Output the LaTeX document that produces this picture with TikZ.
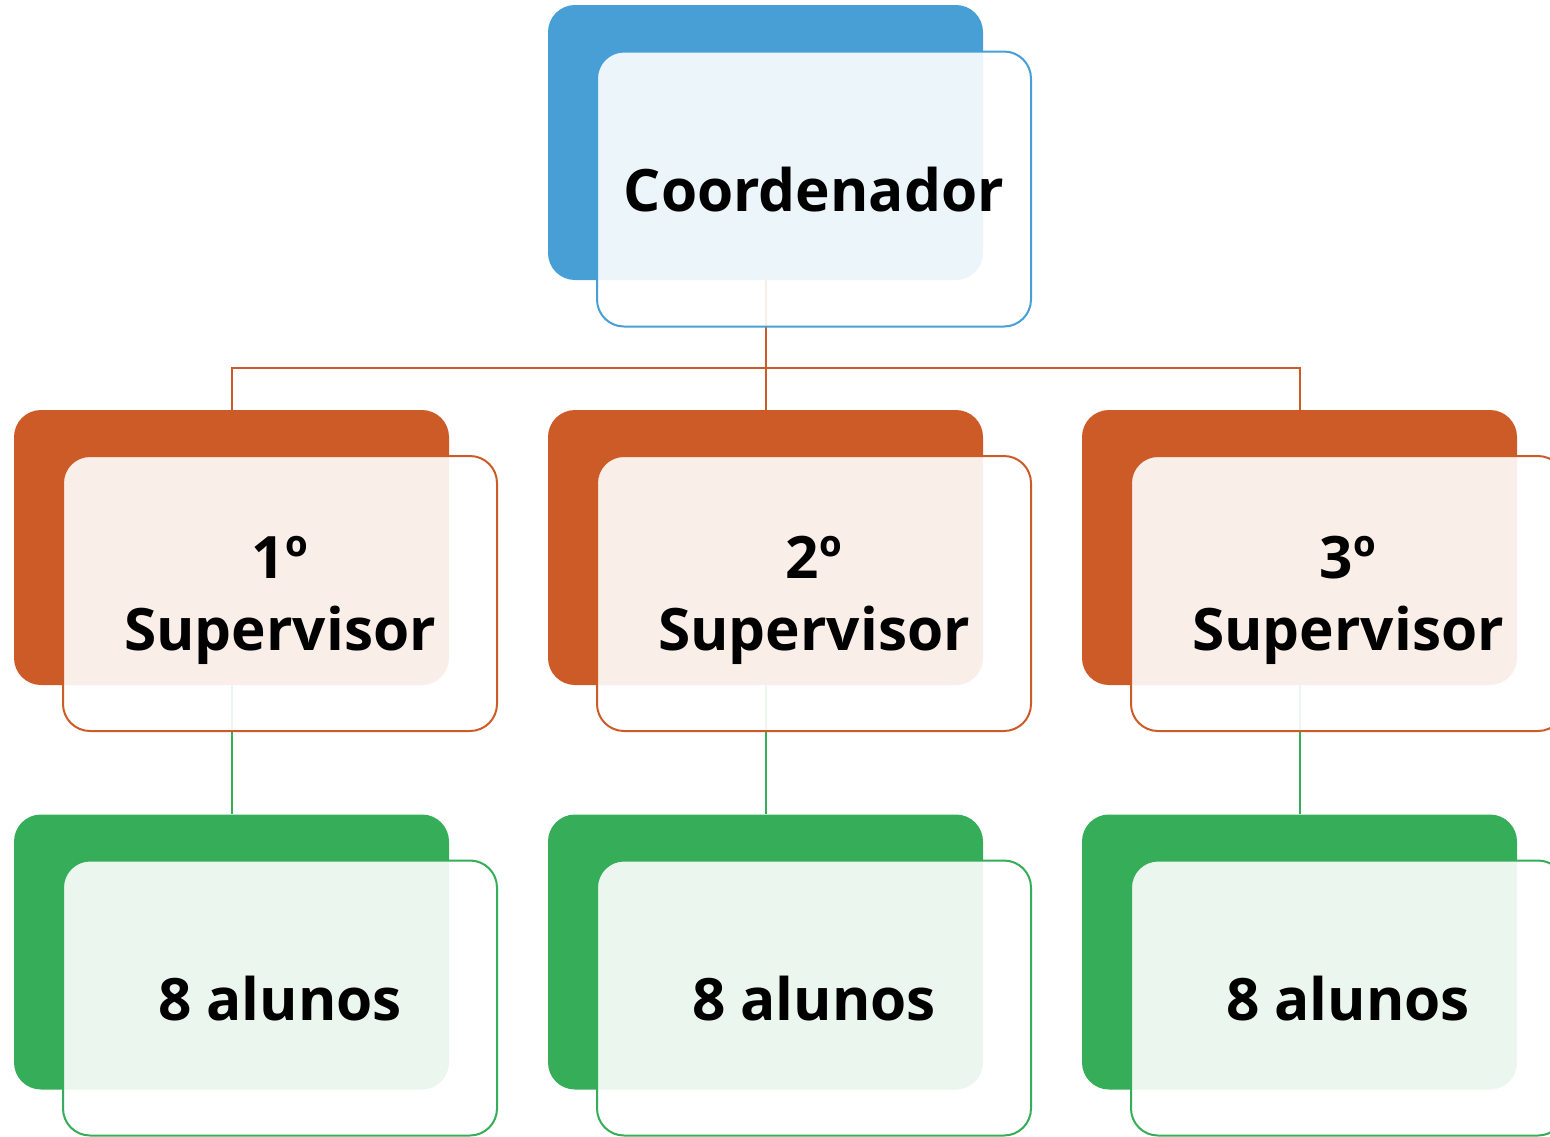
\documentclass[tikz,border=0pt]{standalone}
\usepackage{fontspec}
\setmainfont{Open Sans}
\definecolor{cblue}{HTML}{479FD6}
\definecolor{corange}{HTML}{CD5B27}
\definecolor{cgreen}{HTML}{35AD59}
\begin{document}
\begin{tikzpicture}[x=1pt,y=-1pt,
  backbox/.style={rectangle, rounded corners=27pt, minimum width=435pt, minimum height=275pt, inner sep=0pt, fill=#1, draw=none},
  frontbox/.style={rectangle, rounded corners=27pt, minimum width=434pt, minimum height=275pt, inner sep=0pt, draw=#1, line width=2pt, fill=white, fill opacity=0.9, text opacity=1, align=center, text depth=0pt, font=\fontsize{58.5}{72}\selectfont\bfseries, text=black},
  link/.style={draw=#1, line width=2pt}
]
\useasboundingbox (0,0) rectangle (1550,1136);
% back boxes
\node[backbox=cblue] (cb) at (765.5,142.5) {};
\node[backbox=corange] (s1b) at (231.5,547.5) {};
\node[backbox=corange] (s2b) at (765.5,547.5) {};
\node[backbox=corange] (s3b) at (1299.5,547.5) {};
\node[backbox=cgreen] (a1b) at (231.5,952) {};
\node[backbox=cgreen] (a2b) at (765.5,952) {};
\node[backbox=cgreen] (a3b) at (1299.5,952) {};
% connectors
\draw[link=corange] (cb.south) -- ++(0,88) -| (s1b.north);
\draw[link=corange] (cb.south) -- ++(0,88) -| (s3b.north);
\draw[link=corange] (cb.south) -- (s2b.north);
\draw[link=cgreen] (s1b.south) -- (a1b.north);
\draw[link=cgreen] (s2b.south) -- (a2b.north);
\draw[link=cgreen] (s3b.south) -- (a3b.north);
% front boxes
\node[frontbox=cblue] (cf) at (814,189) {Coordenador};
\node[frontbox=corange] (s1f) at (280,593.5) {1º\\Supervisor};
\node[frontbox=corange] (s2f) at (814,593.5) {2º\\Supervisor};
\node[frontbox=corange] (s3f) at (1348,593.5) {3º\\Supervisor};
\node[frontbox=cgreen] (a1f) at (280,998) {8 alunos};
\node[frontbox=cgreen] (a2f) at (814,998) {8 alunos};
\node[frontbox=cgreen] (a3f) at (1348,998) {8 alunos};
\end{tikzpicture}
\end{document}
